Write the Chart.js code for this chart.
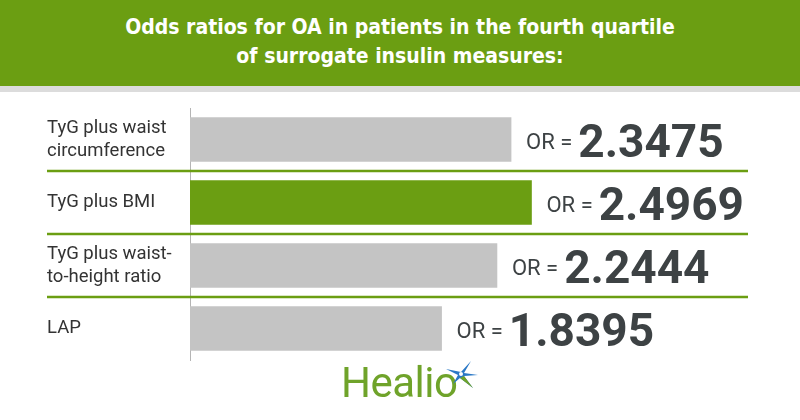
<!DOCTYPE html>
<html>
<head>
<meta charset="utf-8">
<script src="https://cdn.jsdelivr.net/npm/chart.js@4"></script>
<style>
    html, body { margin: 0; padding: 0; background: #fff; }
    body { width: 800px; height: 420px; position: relative; overflow: hidden; }
    #header {
        position: absolute; left: 0; top: 0; width: 800px;
        background: #6b9e12; color: #fff; text-align: center;
        font-family: "DejaVu Sans Condensed", "DejaVu Sans", sans-serif;
        font-stretch: condensed; font-weight: bold; font-size: 21px;
        line-height: 29px; padding-top: 13px; box-sizing: border-box;
        border-bottom: 6px solid #dcdcdc; height: 92px;
    }
    #chart { position: absolute; left: 0; top: 0; }
    #logo {
        position: absolute; left: 341px; top: 358px;
        font-family: Roboto, sans-serif; font-size: 42px; color: #6fa32a;
        letter-spacing: -0.5px;
    }
    #logo svg { position: absolute; left: 102px; top: 2px; }
</style>
</head>
<body>
<canvas id="chart" width="800" height="420"></canvas>
<div id="header">Odds ratios for OA in patients in the fourth quartile<br>of surrogate insulin measures:</div>
<div id="logo">Healio<svg width="36" height="30" viewBox="0 0 36 30">
    <polygon points="18,12 28,1 21,13 35,15 21,16 30,28 17,18 10,24 15,15 3,9" fill="#2a78c6"/>
    <polygon points="17,18 30,28 21,16" fill="#6fa32a"/>
    <circle cx="18" cy="14" r="2" fill="#fff"/>
</svg></div>
<script>
const labels = [
    ["TyG plus waist", "circumference"],
    "TyG plus BMI",
    ["TyG plus waist-", "to-height ratio"],
    "LAP",
];
const oddsRatios = [2.3475, 2.4969, 2.2444, 1.8395];
const valueLabels = ["2.3475", "2.4969", "2.2444", "1.8395"];
const barColors = ["#c4c4c4", "#6b9e12", "#c4c4c4", "#c4c4c4"];

const green = "#6b9e12";

// "OR = x.xxxx" next to each bar
const valuePlugin = {
    id: "values",
    afterDatasetsDraw(chart) {
        const ctx = chart.ctx;
        const meta = chart.getDatasetMeta(0);
        meta.data.forEach((bar, i) => {
            let x = bar.x + 15;
            ctx.save();
            ctx.fillStyle = "#3d4244";
            ctx.textBaseline = "alphabetic";
            ctx.font = "22px Roboto";
            ctx.fillText("OR =", x, bar.y + 9);
            x += ctx.measureText("OR =").width + 6;
            ctx.font = "bold 46px Roboto";
            ctx.fillText(valueLabels[i], x, bar.y + 17);
            ctx.restore();
        });
    },
};

// green rules between categories
const separatorPlugin = {
    id: "separators",
    afterDraw(chart) {
        const ctx = chart.ctx;
        const y = chart.scales.y;
        ctx.save();
        ctx.strokeStyle = green;
        ctx.lineWidth = 2.5;
        for (let i = 0; i < labels.length - 1; i++) {
            const yy = (y.getPixelForValue(i) + y.getPixelForValue(i + 1)) / 2;
            ctx.beginPath();
            ctx.moveTo(47, yy);
            ctx.lineTo(748, yy);
            ctx.stroke();
        }
        ctx.restore();
    },
};

new Chart(document.getElementById("chart"), {
    type: "bar",
    data: {
        labels: labels,
        datasets: [
            {
                data: oddsRatios,
                backgroundColor: barColors,
                barThickness: 44,
            },
        ],
    },
    options: {
        indexAxis: "y",
        responsive: false,
        animation: false,
        layout: { padding: { left: 47, right: 52, top: 108, bottom: 60 } },
        scales: {
            x: { display: false, min: 0, max: 4.08 },
            y: {
                grid: { display: false, drawTicks: false },
                border: { display: true, color: "#b5b5b5", width: 1 },
                ticks: {
                    crossAlign: "far",
                    padding: 0,
                    color: "#333",
                    font: { family: "Roboto", size: 18.5, lineHeight: 1.25 },
                },
                afterFit(scale) {
                    scale.width = 143;
                },
            },
        },
        plugins: {
            legend: { display: false },
            tooltip: { enabled: false },
        },
    },
    plugins: [valuePlugin, separatorPlugin],
});
</script>
</body>
</html>
